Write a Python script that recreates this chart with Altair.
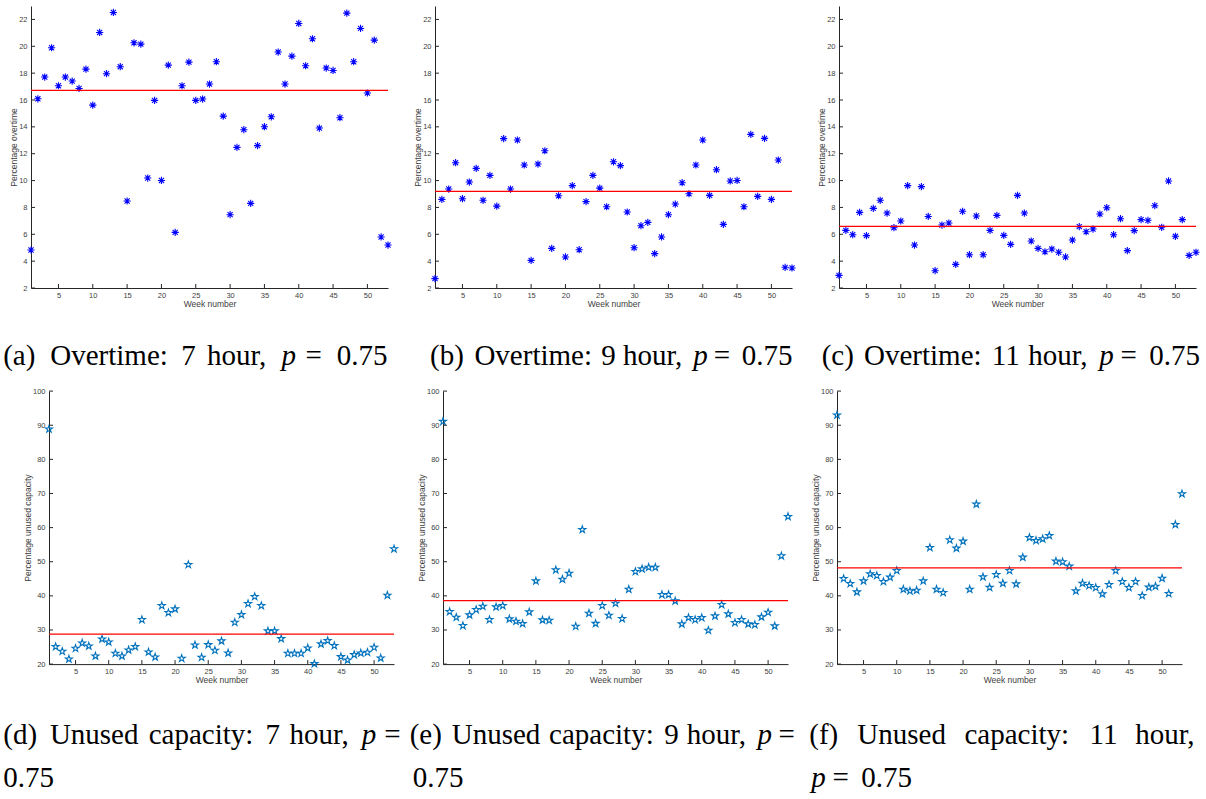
import altair as alt
import pandas as pd

# ---- data: weekly percentages, weeks 1..53 ----
weeks = list(range(1, 54))

overtime_7h = [4.83, 16.09, 17.71, 19.89, 17.06, 17.71, 17.41, 16.86, 18.30, 15.62,
               21.03, 17.96, 22.52, 18.48, 8.48, 20.26, 20.16, 10.19, 15.97, 10.01,
               18.60, 6.14, 17.06, 18.82, 15.97, 16.07, 17.19, 18.85, 14.80, 7.46,
               12.47, 13.79, 8.30, 12.60, 14.01, 14.75, 19.57, 17.19, 19.27, 21.70,
               18.55, 20.56, 13.91, 18.38, 18.20, 14.68, 22.47, 18.85, 21.33, 16.52,
               20.46, 5.80, 5.20]
overtime_9h = [2.70, 8.60, 9.37, 11.33, 8.65, 9.89, 10.91, 8.53, 10.39, 8.10,
               13.12, 9.37, 13.02, 11.16, 4.06, 11.23, 12.22, 4.95, 8.87, 4.31,
               9.62, 4.85, 8.43, 10.39, 9.44, 8.05, 11.40, 11.11, 7.66, 5.00,
               6.64, 6.89, 4.56, 5.80, 7.46, 8.25, 9.84, 9.02, 11.16, 13.02,
               8.90, 10.81, 6.74, 9.97, 10.01, 8.05, 13.44, 8.82, 13.14, 8.60,
               11.53, 3.54, 3.49]
overtime_11h = [2.94, 6.29, 5.97, 7.63, 5.90, 7.93, 8.53, 7.58, 6.49, 6.99,
                9.62, 5.20, 9.55, 7.33, 3.29, 6.69, 6.84, 3.76, 7.71, 4.48,
                7.36, 4.48, 6.29, 7.41, 5.92, 5.25, 8.90, 7.58, 5.50, 4.95,
                4.70, 4.90, 4.66, 4.31, 5.57, 6.57, 6.19, 6.39, 7.51, 7.98,
                5.97, 7.16, 4.78, 6.27, 7.09, 7.04, 8.13, 6.52, 9.97, 5.85,
                7.09, 4.43, 4.66]
unused_7h = [88.85, 25.09, 23.72, 21.47, 24.60, 26.16, 25.28, 22.35, 27.33, 26.45,
             23.13, 22.35, 24.11, 25.09, 33.01, 23.52, 22.05, 37.11, 35.06, 36.14,
             21.66, 49.14, 25.57, 21.96, 25.67, 24.01, 26.75, 23.23, 32.22, 34.47,
             37.70, 39.76, 37.11, 29.68, 29.68, 27.43, 23.13, 23.13, 23.13, 24.69,
             20.10, 25.87, 26.85, 25.38, 22.15, 21.17, 22.74, 23.23, 23.42, 24.89,
             21.76, 40.15, 53.74]
unused_9h = [91.10, 35.35, 33.69, 31.25, 34.38, 35.94, 36.92, 33.01, 36.73, 37.11,
             33.20, 32.52, 31.83, 35.26, 44.35, 32.91, 32.81, 47.58, 44.84, 46.60,
             31.05, 59.41, 34.87, 31.88, 37.11, 34.28, 37.80, 33.30, 41.91, 47.09,
             47.87, 48.36, 48.36, 40.34, 40.34, 38.48, 31.74, 33.59, 33.01, 33.59,
             29.88, 34.08, 37.41, 34.67, 32.13, 33.01, 31.74, 31.54, 33.79, 35.16,
             31.15, 51.69, 63.23]
unused_11h = [92.96, 45.04, 43.57, 41.12, 44.35, 46.41, 45.92, 44.16, 45.43, 47.38,
              41.91, 41.42, 41.61, 44.35, 54.13, 41.91, 40.93, 56.38, 53.94, 55.99,
              41.91, 66.85, 45.53, 42.45, 46.21, 43.67, 47.38, 43.47, 51.30, 57.07,
              56.19, 56.67, 57.65, 50.12, 49.93, 48.66, 41.42, 43.67, 42.98, 42.40,
              40.54, 43.28, 47.38, 44.16, 42.40, 44.16, 40.05, 42.50, 42.79, 45.13,
              40.64, 60.88, 69.88]

# average level drawn as the red reference line in each panel
mean_overtime = [16.71, 9.20, 6.59]
mean_unused = [28.80, 38.58, 48.17]

week_ticks = [5, 10, 15, 20, 25, 30, 35, 40, 45, 50]
overtime_ticks = [2, 4, 6, 8, 10, 12, 14, 16, 18, 20, 22]
unused_ticks = [20, 30, 40, 50, 60, 70, 80, 90, 100]

# ---- marker shapes (unit-square SVG paths) ----
ASTERISK = ("M0,-1L0,1M-1,0L1,0M-0.707,-0.707L0.707,0.707"
            "M-0.707,0.707L0.707,-0.707")
PENTAGRAM = ("M0,-1L0.2245,-0.309L0.951,-0.309L0.363,0.118L0.588,0.809"
             "L0,0.382L-0.588,0.809L-0.363,0.118L-0.951,-0.309L-0.2245,-0.309Z")

AXIS_DARK = "#262626"
SERIF = "Liberation Serif"
CAP_SIZE = 29

# ---- caption typesetting (word advance widths in em, roman text font) ----
EM = 27.2
ADV = {'(': .389, ')': .389, 'a': .5, 'b': .556, 'c': .444, 'd': .556,
       'e': .444, 'f': .306, 'h': .556, 'i': .278, 'm': .833, 'n': .556,
       'o': .5, 'p': .556, 'r': .392, 's': .394, 't': .389, 'u': .556,
       'v': .528, 'y': .528, 'O': .778, 'U': .75, ':': .278, ',': .278,
       '.': .278, '0': .5, '1': .5, '5': .5, '7': .5, '9': .5, '=': .778}
SPACE, MSPACE, MATH_P = .333, .278, .503


def word_width(w, italic):
    if italic and w == "p":
        return MATH_P * EM
    return sum(ADV[c] for c in w) * EM


def set_line(tokens, x0, x1=None, center=None):
    """tokens: (word, italic, gap_before_em). Returns [(word, x, italic)]."""
    widths = [word_width(w, it) for (w, it, _) in tokens]
    gaps = [g * EM for (_, _, g) in tokens]
    natural = sum(widths) + sum(gaps)
    if x1 is not None:
        stretch = (x1 - x0 - sum(widths)) / max(sum(gaps), 1e-9)
        gaps = [g * stretch for g in gaps]
    elif center is not None:
        x0 = center - natural / 2
    out, x = [], x0
    for (w, it, _), wd, gp in zip(tokens, widths, gaps):
        x += gp
        out.append((w, x, it))
        x += wd
    return out


def overtime_tokens(tag, hours):
    return [(tag, False, 0), ("Overtime:", False, SPACE), (hours, False, SPACE),
            ("hour,", False, SPACE), ("p", True, SPACE), ("=", False, MSPACE),
            ("0.75", False, MSPACE)]


def unused_tokens(tag, hours):
    return [(tag, False, 0), ("Unused", False, SPACE), ("capacity:", False, SPACE),
            (hours, False, SPACE), ("hour,", False, SPACE), ("p", True, SPACE),
            ("=", False, MSPACE)]


def caption_piece(text, x, y, italic=False):
    return alt.Chart(pd.DataFrame({"k": [0]})).mark_text(
        text=text, align="left", baseline="alphabetic", font=SERIF,
        fontSize=CAP_SIZE, fontStyle="italic" if italic else "normal",
        color="black",
    ).encode(x=alt.value(x), y=alt.value(y))


def panel(values, mean, y_domain, y_ticks, y_title, shape, color, size,
          width, height, title_dx, captions):
    df = pd.DataFrame({"week": weeks, "value": values})
    xs = alt.Scale(domain=[1, 53], nice=False, zero=False)
    ys = alt.Scale(domain=y_domain, nice=False, zero=False)
    x_axis = alt.Axis(values=week_ticks, title="Week number", titleX=width / 2,
                      titleY=15, titleBaseline="middle", titleAlign="center",
                      labelPadding=3)
    y_axis = alt.Axis(values=y_ticks, title=y_title, titleX=title_dx,
                      titleY=height / 2, titleAngle=270, titleAlign="center",
                      titleBaseline="middle", labelPadding=4)

    pts = alt.Chart(df).mark_point(
        shape=shape, filled=False, color=color, size=size,
        strokeWidth=1.1, opacity=1,
    ).encode(
        x=alt.X("week:Q", scale=xs, axis=x_axis),
        y=alt.Y("value:Q", scale=ys, axis=y_axis),
    )

    avg = alt.Chart(pd.DataFrame({"value": [mean]})).mark_rule(
        color="#ff0000", strokeWidth=1.2
    ).encode(y=alt.Y("value:Q", scale=ys, axis=y_axis))

    # inward tick marks
    ytk = alt.Chart(pd.DataFrame({"value": y_ticks})).mark_rule(
        color=AXIS_DARK, strokeWidth=1
    ).encode(y=alt.Y("value:Q", scale=ys, axis=y_axis),
             x=alt.value(0), x2=alt.value(4))
    xtk = alt.Chart(pd.DataFrame({"week": week_ticks})).mark_rule(
        color=AXIS_DARK, strokeWidth=1
    ).encode(x=alt.X("week:Q", scale=xs, axis=x_axis),
             y=alt.value(height), y2=alt.value(height - 4))

    caps = [caption_piece(t, x, y, it) for (t, x, y, it) in captions]

    return alt.layer(pts, avg, ytk, xtk, *caps).properties(
        width=width, height=height)


TW, TH = 357, 282
BW, BH = 345, 273
TOP_X, TOP_Y = 30.8, 6.6        # top-left of the first upper plot
BOT_X, BOT_Y = 48.7, 391.7      # top-left of the first lower plot
top_left = [30.8, 435.0, 839.3]
bot_left = [48.7, 443.3, 837.7]

TOP_BASE = 366
L1_BASE, L2_BASE = 745, 788


def placed(lines, left, top):
    out = []
    for words, base in lines:
        for (w, x, it) in words:
            out.append((w, x - left, base - top, it))
    return out


cap_a = placed([(set_line(overtime_tokens("(a)", "7"), 3, 385), TOP_BASE)],
               top_left[0], TOP_Y)
cap_b = placed([(set_line(overtime_tokens("(b)", "9"), 430, 790), TOP_BASE)],
               top_left[1], TOP_Y)
cap_c = placed([(set_line(overtime_tokens("(c)", "11"), 822, 1198), TOP_BASE)],
               top_left[2], TOP_Y)
cap_d = placed([(set_line(unused_tokens("(d)", "7"), 3, 405), L1_BASE),
                (set_line([("0.75", False, 0)], 3), L2_BASE)],
               bot_left[0], BOT_Y)
cap_e = placed([(set_line(unused_tokens("(e)", "9"), 410, 800), L1_BASE),
                (set_line([("0.75", False, 0)], 413), L2_BASE)],
               bot_left[1], BOT_Y)
cap_f = placed([(set_line([("(f)", False, 0), ("Unused", False, SPACE),
                           ("capacity:", False, SPACE), ("11", False, SPACE),
                           ("hour,", False, SPACE)], 810, 1198), L1_BASE),
                (set_line([("p", True, 0), ("=", False, MSPACE),
                           ("0.75", False, MSPACE)], 812), L2_BASE)],
               bot_left[2], BOT_Y)

OT_TITLE = "Percentage overtime"
UC_TITLE = "Percentage unused capacity"
BLUE = "#0000ff"
MBLUE = "#0072bd"

top_row = alt.hconcat(
    panel(overtime_7h, mean_overtime[0], [2, 23], overtime_ticks, OT_TITLE,
          ASTERISK, BLUE, 52, TW, TH, -18, cap_a),
    panel(overtime_9h, mean_overtime[1], [2, 23], overtime_ticks, OT_TITLE,
          ASTERISK, BLUE, 52, TW, TH, -18, cap_b),
    panel(overtime_11h, mean_overtime[2], [2, 23], overtime_ticks, OT_TITLE,
          ASTERISK, BLUE, 52, TW, TH, -18, cap_c),
    spacing=47, bounds="flush",
)
bottom_panels = alt.hconcat(
    panel(unused_7h, mean_unused[0], [20, 100], unused_ticks, UC_TITLE,
          PENTAGRAM, MBLUE, 55, BW, BH, -22, cap_d),
    panel(unused_9h, mean_unused[1], [20, 100], unused_ticks, UC_TITLE,
          PENTAGRAM, MBLUE, 55, BW, BH, -22, cap_e),
    panel(unused_11h, mean_unused[2], [20, 100], unused_ticks, UC_TITLE,
          PENTAGRAM, MBLUE, 55, BW, BH, -22, cap_f),
    spacing=49, bounds="flush",
)
# empty strip that shifts the lower row right of the upper one
indent = alt.Chart(pd.DataFrame({"k": [0]})).mark_text(text="").encode(
    x=alt.value(0), y=alt.value(0)
).properties(width=BOT_X - TOP_X, height=1)
bottom_row = alt.hconcat(indent, bottom_panels, spacing=0, bounds="flush")

# in flush layout a nested row counts with zero height, so the spacing
# carries the full offset between the two rows' plot tops
chart = alt.vconcat(
    top_row, bottom_row, spacing=BOT_Y - TOP_Y, bounds="flush"
).properties(
    padding={"left": 3, "top": 6, "right": 0, "bottom": 0},
    background="white",
).configure_view(stroke=None).configure_axis(
    grid=False, ticks=False,
    domainColor=AXIS_DARK, domainWidth=1,
    labelFont="Liberation Sans", labelFontSize=7.5, labelColor="#404040",
    titleFont="Liberation Sans", titleFontSize=8.5, titleColor="#404040",
    titleFontWeight="normal",
)

chart.save("out.html", embed_options={"renderer": "svg", "actions": False})
